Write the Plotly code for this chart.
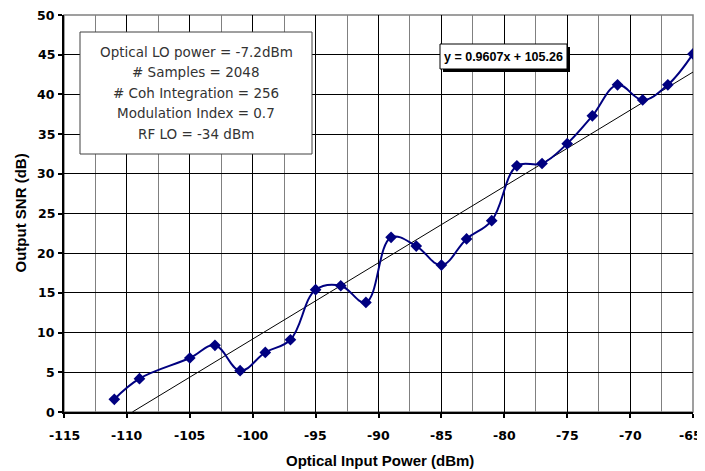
import numpy as np
import plotly.graph_objects as go

# Data
power_dbm = [-111, -109, -105, -103, -101, -99, -97, -95, -93, -91, -89, -87,
             -85, -83, -81, -79, -77, -75, -73, -71, -69, -67, -65]
snr_db = [1.6, 4.2, 6.8, 8.4, 5.2, 7.5, 9.1, 15.4, 15.9, 13.8, 22.0, 20.9,
          18.5, 21.8, 24.1, 31.0, 31.3, 33.8, 37.3, 41.2, 39.3, 41.2, 45.1]
trend_slope = 0.9607
trend_intercept = 105.26
x_tick_vals = [-115, -110, -105, -100, -95, -90, -85, -80, -75, -70, -65]
x_tick_text = ["-115", "-110", "-105", "-100", "-95", "-90", "-85", "-80", "-75", "-70", "-65"]
y_tick_vals = [0, 5, 10, 15, 20, 25, 30, 35, 40, 45, 50]
y_tick_text = ["0", "5", "10", "15", "20", "25", "30", "35", "40", "45", "50"]
x_title = "Optical Input Power (dBm)"
y_title = "Output SNR (dB)"
info_lines = ["Optical LO power = -7.2dBm", "# Samples = 2048",
              "# Coh Integration = 256", "Modulation Index = 0.7",
              "RF LO = -34 dBm"]
eq_text = "y = 0.9607x + 105.26"

x0 = -trend_intercept / trend_slope
trend_x = np.array([x0, max(power_dbm)])
trend_y = trend_slope * trend_x + trend_intercept

fig = go.Figure()
fig.add_trace(go.Scatter(x=trend_x, y=trend_y, mode="lines",
                         line=dict(color="black", width=1), hoverinfo="skip"))
fig.add_trace(go.Scatter(x=power_dbm, y=snr_db, mode="lines+markers",
                         line=dict(color="#000080", width=2, shape="spline", smoothing=1.1),
                         marker=dict(symbol="diamond", size=9, color="#000080")))

# page body has an 8px default margin; compensate so the plot lands where intended
OFF = 8
W, H = 705 - OFF, 471 - OFF
PL, PT, PW, PH = 64, 15, 629, 397   # plot area in screen pixels
L, T = PL - OFF, PT - OFF
R = W - L - PW
B = H - T - PH

def px(x):
    return (x - PL) / PW

def py(y):
    return 1 - (y - PT) / PH

shapes = [
    dict(type="rect", xref="paper", yref="paper", x0=0, x1=1, y0=0, y1=1,
         line=dict(color="#808080", width=1.5), layer="below"),
    dict(type="rect", xref="paper", yref="paper", x0=px(80), x1=px(312),
         y0=py(154), y1=py(32), line=dict(color="#404040", width=1),
         fillcolor="white", layer="above"),
    dict(type="rect", xref="paper", yref="paper", x0=px(443), x1=px(570),
         y0=py(72), y1=py(47), line=dict(width=0), fillcolor="black", layer="above"),
    dict(type="rect", xref="paper", yref="paper", x0=px(440), x1=px(567),
         y0=py(69), y1=py(44), line=dict(color="black", width=1),
         fillcolor="white", layer="above"),
]

SANS = "Liberation Sans, Arial"
tickf = dict(family="DejaVu Sans", size=12.5, color="black", weight="bold")
titlef = dict(family=SANS, size=15, color="black")

annotations = []
for i, t in enumerate(info_lines):
    annotations.append(dict(x=px(196), y=py(52 + i * 20.4), xref="paper", yref="paper",
                            text=t, showarrow=False, xanchor="center", yanchor="middle",
                            font=dict(family="DejaVu Sans", size=13.5, color="#333333")))
annotations.append(dict(x=px(503.5), y=py(56.5), xref="paper", yref="paper",
                        text="<b>" + eq_text + "</b>", showarrow=False,
                        xanchor="center", yanchor="middle",
                        font=dict(family=SANS, size=12.5, color="black")))
# bold tick labels
for v, s in zip(x_tick_vals, x_tick_text):
    if v == x_tick_vals[-1]:
        # keep the last label inside the page edge
        annotations.append(dict(x=px(704), xref="paper", y=py(435), yref="paper",
                                text="<b>" + s + "</b>", showarrow=False,
                                xanchor="right", yanchor="middle", font=tickf))
    else:
        annotations.append(dict(x=v, xref="x", y=py(435), yref="paper",
                                text="<b>" + s + "</b>", showarrow=False,
                                xanchor="center", yanchor="middle", font=tickf))
for v, s in zip(y_tick_vals, y_tick_text):
    annotations.append(dict(x=px(57), xref="paper", y=v, yref="y", text="<b>" + s + "</b>",
                            showarrow=False, xanchor="right", yanchor="middle",
                            font=tickf))
# axis titles
annotations.append(dict(x=px(380), y=py(460), xref="paper", yref="paper",
                        text="<b>" + x_title + "</b>", showarrow=False,
                        xanchor="center", yanchor="middle", font=titlef))
annotations.append(dict(x=px(20), y=py(213.5), xref="paper", yref="paper",
                        text="<b>" + y_title + "</b>", showarrow=False, textangle=-90,
                        xanchor="center", yanchor="middle", font=titlef))

fig.update_layout(
    width=W, height=H,
    margin=dict(l=L, r=R, t=T, b=B, pad=0, autoexpand=False),
    paper_bgcolor="white", plot_bgcolor="white",
    showlegend=False,
    shapes=shapes, annotations=annotations,
    font=dict(family=SANS, color="black"),
    xaxis=dict(range=[-115, -65], tickvals=x_tick_vals, showticklabels=False,
               showgrid=True, gridcolor="black", gridwidth=1,
               minor=dict(dtick=2.5, tick0=-115, showgrid=True, gridcolor="#808080", gridwidth=1),
               showline=True, linecolor="black", linewidth=2,
               ticks="outside", ticklen=4, tickwidth=2, tickcolor="black",
               zeroline=False, automargin=False),
    yaxis=dict(range=[0, 50], tickvals=y_tick_vals, showticklabels=False,
               showgrid=True, gridcolor="black", gridwidth=1,
               showline=True, linecolor="black", linewidth=2,
               ticks="outside", ticklen=4, tickwidth=2, tickcolor="black",
               zeroline=False, automargin=False),
)

fig.write_html("out.html")
